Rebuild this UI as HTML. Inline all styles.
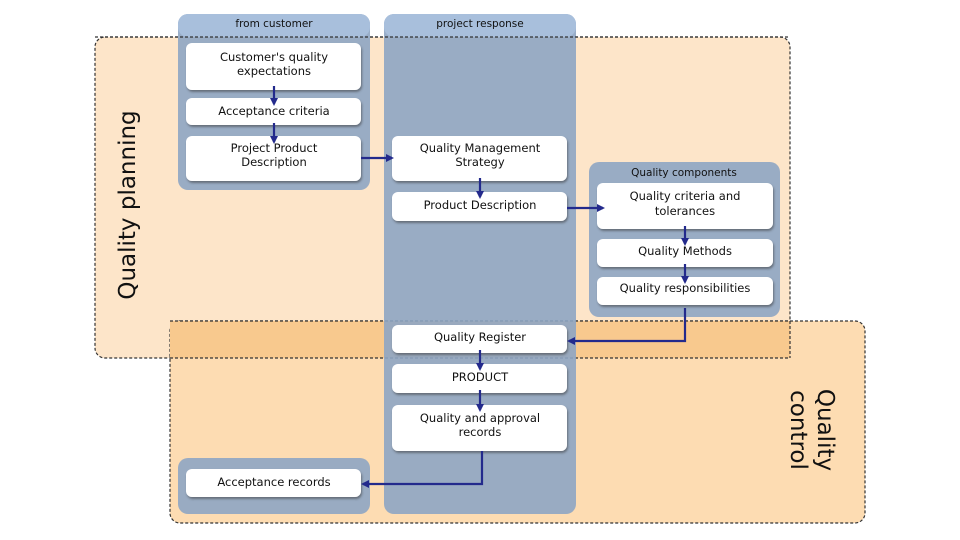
<!DOCTYPE html>
<html><head><meta charset="utf-8"><style>
html,body{margin:0;padding:0;background:#fff;}
svg{display:block;font-family:"DejaVu Sans","Liberation Sans",sans-serif;}
</style></head><body>
<svg width="960" height="540" viewBox="0 0 960 540" xmlns="http://www.w3.org/2000/svg">
<defs>
<marker id="a" markerWidth="8" markerHeight="8" refX="6" refY="4" orient="auto" markerUnits="userSpaceOnUse">
<path d="M0,0 L8,4 L0,8 z" fill="#232a8c"/></marker>
<filter id="s" x="-5%" y="-10%" width="110%" height="130%"><feDropShadow dx="1" dy="2" stdDeviation="1" flood-color="#333" flood-opacity="0.5"/></filter>
</defs>
<rect width="960" height="540" fill="#fff"/>
<!-- regions -->
<rect x="95" y="37" width="695" height="321" rx="10" fill="#fde5c9" stroke="#333" stroke-width="1.2" stroke-dasharray="3,2"/>
<rect x="170" y="321" width="695" height="202" rx="10" fill="#fddcb2" stroke="#333" stroke-width="1.2" stroke-dasharray="3,2"/>
<rect x="170" y="321" width="620" height="37" fill="#f8c98e"/>
<line x1="170" y1="321" x2="790" y2="321" stroke="#333" stroke-width="1.2" stroke-dasharray="3,2"/>
<line x1="790" y1="321" x2="790" y2="358" stroke="#333" stroke-width="1.2" stroke-dasharray="3,2"/>
<line x1="170" y1="358" x2="790" y2="358" stroke="#333" stroke-width="1.2" stroke-dasharray="3,2"/>
<!-- columns -->
<rect x="178" y="14" width="192" height="176" rx="10" fill="#8ea5c3" fill-opacity="0.9"/>
<rect x="384" y="14" width="192" height="500" rx="10" fill="#8ea5c3" fill-opacity="0.9"/>
<rect x="589" y="162" width="191" height="155" rx="10" fill="#8ea5c3" fill-opacity="0.9"/>
<rect x="178" y="458" width="192" height="56" rx="10" fill="#8ea5c3" fill-opacity="0.9"/>
<rect x="178" y="14" width="192" height="23" rx="10" fill="#a8bfdc"/>
<rect x="384" y="14" width="192" height="23" rx="10" fill="#a8bfdc"/>
<line x1="95" y1="37" x2="790" y2="37" stroke="#333" stroke-width="1.2" stroke-dasharray="3,2"/>
<g font-size="10.5" fill="#111" text-anchor="middle">
<text x="274" y="27">from customer</text>
<text x="480" y="27">project response</text>
<text x="684" y="176">Quality components</text>
</g>
<!-- boxes -->
<g fill="#fff" filter="url(#s)">
<rect x="186" y="43" width="175" height="47" rx="6"/>
<rect x="186" y="98" width="175" height="27" rx="6"/>
<rect x="186" y="136" width="175" height="45" rx="6"/>
<rect x="392" y="136" width="175" height="45" rx="6"/>
<rect x="392" y="192" width="175" height="29" rx="6"/>
<rect x="597" y="183" width="176" height="46" rx="6"/>
<rect x="597" y="239" width="176" height="28" rx="6"/>
<rect x="597" y="277" width="176" height="28" rx="6"/>
<rect x="392" y="325" width="175" height="28" rx="6"/>
<rect x="392" y="364" width="175" height="29" rx="6"/>
<rect x="392" y="405" width="175" height="46" rx="6"/>
<rect x="186" y="469" width="175" height="28" rx="6"/>
</g>
<g font-size="11.5" fill="#111" text-anchor="middle">
<text x="274" y="61">Customer's quality</text><text x="274" y="75">expectations</text>
<text x="274" y="115">Acceptance criteria</text>
<text x="274" y="152">Project Product</text><text x="274" y="166">Description</text>
<text x="480" y="152">Quality Management</text><text x="480" y="166">Strategy</text>
<text x="480" y="209">Product Description</text>
<text x="685" y="200">Quality criteria and</text><text x="685" y="215">tolerances</text>
<text x="685" y="255">Quality Methods</text>
<text x="685" y="292">Quality responsibilities</text>
<text x="480" y="341">Quality Register</text>
<text x="480" y="381">PRODUCT</text>
<text x="480" y="422">Quality and approval</text><text x="480" y="436">records</text>
<text x="274" y="486">Acceptance records</text>
</g>
<!-- arrows -->
<g stroke="#232a8c" stroke-width="2.2" fill="none" marker-end="url(#a)">
<line x1="274" y1="86" x2="274" y2="104"/>
<line x1="274" y1="123" x2="274" y2="142"/>
<line x1="361" y1="158" x2="392" y2="158"/>
<line x1="480" y1="178" x2="480" y2="197"/>
<line x1="567" y1="208" x2="603" y2="208"/>
<line x1="685" y1="226" x2="685" y2="244"/>
<line x1="685" y1="264" x2="685" y2="282"/>
<polyline points="685,308 685,341 569,341"/>
<line x1="480" y1="350" x2="480" y2="369"/>
<line x1="480" y1="390" x2="480" y2="410"/>
<polyline points="482,451 482,484 363,484"/>
</g>
<!-- region labels -->
<text transform="translate(135,205) rotate(-90)" font-size="23" fill="#111" text-anchor="middle">Quality planning</text>
<g transform="translate(815,430) rotate(90)" font-size="23" fill="#111" text-anchor="middle">
<text x="0" y="-3">Quality</text><text x="0" y="24">control</text></g>
</svg>
</body></html>
